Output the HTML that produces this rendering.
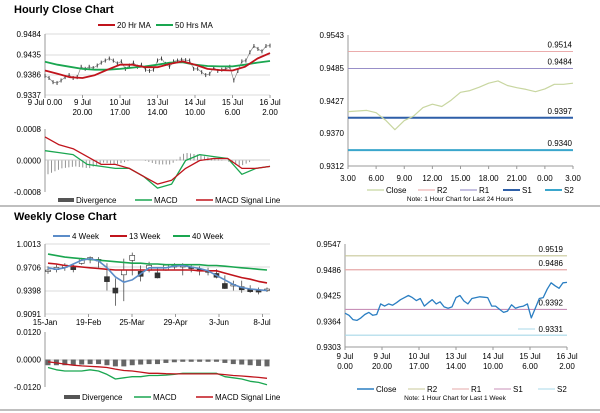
<!DOCTYPE html>
<html><head><meta charset="utf-8"><style>
html,body{margin:0;padding:0;background:#fff;}
svg{display:block;font-family:"Liberation Sans",Arial,sans-serif;}
</style></head><body>
<svg id="s" width="600" height="413" viewBox="0 0 600 413" xmlns="http://www.w3.org/2000/svg">
<text x="14" y="13" font-size="11" font-weight="bold">Hourly Close Chart</text>
<line x1="0" y1="206" x2="600" y2="206" stroke="#999" stroke-width="1.2"/>
<text x="14" y="220" font-size="11" font-weight="bold">Weekly Close Chart</text>
<line x1="0" y1="410" x2="600" y2="410" stroke="#999" stroke-width="1.2"/>
</svg>
<script>
// ---- data ----
const weekClose=[0.9383,0.9378,0.9368,0.9366,0.9372,0.9380,0.9385,0.9378,0.9380,0.9405,0.9400,0.9405,0.9402,0.9408,0.9415,0.9420,0.9425,0.9420,0.9413,0.9418,0.9400,0.9408,0.9415,0.9405,0.9410,0.9398,0.9395,0.9398,0.9420,0.9425,0.9412,0.9405,0.9418,0.9420,0.9422,0.9421,0.9420,0.9400,0.9400,0.9392,0.9385,0.9388,0.9403,0.9395,0.9398,0.9400,0.9405,0.9372,0.9395,0.9418,0.9420,0.9440,0.9455,0.9448,0.9442,0.9455,0.9456];
const ma20=[0.9396,0.9388,0.9380,0.9378,0.9385,0.9398,0.9410,0.9410,0.9404,0.9404,0.9412,0.9418,0.9410,0.9400,0.9397,0.9396,0.9405,0.9425,0.9438];
const ma50=[0.9417,0.9410,0.9405,0.9400,0.9398,0.9398,0.9400,0.9403,0.9406,0.9410,0.9415,0.9416,0.9410,0.9407,0.9406,0.9406,0.9410,0.9415,0.9419];
const hMacd=[0.00025,0.0002,0.00015,-0.0001,-0.00015,-0.0002,-0.0002,-0.0004,-0.0007,-0.0006,0.0000,0.00015,0.0001,0.00005,-0.00035,-0.0002,-0.00015];
const hSignal=[0.0006,0.0004,0.0003,0.0001,-0.0001,-0.0001,-0.0002,-0.0004,-0.0006,-0.0005,-0.0002,0.0000,0.00005,0.00005,-0.0002,-0.0002,-0.00015];
const hourTicks=["9 Jul 0.00","9 Jul|20.00","10 Jul|17.00","13 Jul|14.00","14 Jul|10.00","15 Jul|6.00","16 Jul|2.00"];
const dayClose=[0.9408,0.9409,0.9410,0.9406,0.9393,0.9376,0.9392,0.9400,0.9415,0.9421,0.9417,0.9428,0.9442,0.9445,0.9451,0.9458,0.9462,0.9454,0.9450,0.9447,0.9443,0.9448,0.9456,0.9456,0.9458];
const dayTicks=["3.00","6.00","9.00","12.00","15.00","18.00","21.00","0.00","3.00"];
const dayLevels=[0.9514,0.9484,0.9397,0.9340];
const weekLevels=[0.9519,0.9486,0.9392,0.9331];
const wkClose=[0.9660,0.9690,0.9720,0.9690,0.9790,0.9820,0.9800,0.9550,0.9400,0.9640,0.9830,0.9620,0.9700,0.9600,0.9700,0.9720,0.9720,0.9700,0.9670,0.9650,0.9600,0.9460,0.9470,0.9430,0.9400,0.9390,0.9410];
const wkHigh=[0.9720,0.9740,0.9760,0.9740,0.9830,0.9850,0.9840,0.9760,0.9560,0.9820,0.9900,0.9730,0.9780,0.9700,0.9740,0.9760,0.9760,0.9740,0.9720,0.9700,0.9680,0.9600,0.9530,0.9530,0.9470,0.9440,0.9440];
const wkLow=[0.9620,0.9640,0.9660,0.9640,0.9740,0.9760,0.9700,0.9400,0.9200,0.9260,0.9600,0.9520,0.9640,0.9560,0.9660,0.9680,0.9600,0.9640,0.9600,0.9600,0.9560,0.9420,0.9400,0.9370,0.9370,0.9350,0.9380];
const wk4=[0.970,0.968,0.970,0.975,0.980,0.982,0.979,0.970,0.958,0.951,0.954,0.962,0.970,0.970,0.970,0.972,0.973,0.971,0.969,0.966,0.960,0.954,0.948,0.944,0.942,0.941,0.940];
const wk13=[0.976,0.975,0.973,0.972,0.971,0.970,0.969,0.968,0.967,0.967,0.967,0.967,0.967,0.967,0.967,0.967,0.967,0.967,0.966,0.966,0.966,0.963,0.960,0.957,0.955,0.952,0.950];
const wk40=[0.988,0.986,0.984,0.983,0.982,0.981,0.980,0.979,0.978,0.977,0.976,0.976,0.975,0.975,0.974,0.974,0.974,0.974,0.974,0.973,0.973,0.972,0.971,0.970,0.969,0.968,0.967];
const wMacd=[-0.0035,-0.0045,-0.005,-0.005,-0.005,-0.0045,-0.005,-0.0065,-0.0085,-0.008,-0.0075,-0.0075,-0.007,-0.007,-0.0068,-0.0065,-0.006,-0.006,-0.006,-0.006,-0.006,-0.0075,-0.008,-0.0085,-0.0095,-0.010,-0.011];
const wSignal=[-0.001,-0.0015,-0.002,-0.0025,-0.0028,-0.003,-0.0032,-0.0035,-0.0042,-0.0048,-0.005,-0.0055,-0.006,-0.006,-0.0062,-0.0063,-0.0063,-0.0063,-0.0063,-0.0063,-0.0063,-0.0066,-0.007,-0.0072,-0.0075,-0.0078,-0.0082];
const wDiv=[-0.0025,-0.0025,-0.0025,-0.0025,-0.0022,-0.002,-0.002,-0.0025,-0.003,-0.003,-0.0025,-0.0022,-0.002,-0.002,-0.0015,-0.0012,-0.001,-0.001,-0.001,-0.001,-0.001,-0.0015,-0.002,-0.0022,-0.0025,-0.0028,-0.003];
const wkTicks=["15-Jan","19-Feb","25-Mar","29-Apr","3-Jun","8-Jul"];

// ---- helpers ----
const S=document.getElementById('s');const NS="http://www.w3.org/2000/svg";
function mk(tag,a,parent){const e=document.createElementNS(NS,tag);for(const k in a)e.setAttribute(k,a[k]);(parent||S).appendChild(e);return e;}
function txt(x,y,t,size,anchor,fill){const e=mk('text',{x:x,y:y,'font-size':size||8,'text-anchor':anchor||'start',fill:fill||'#000'});e.textContent=t;return e;}
function lin(lo,hi,p0,p1){return v=>p0+(v-lo)/(hi-lo)*(p1-p0);}
function poly(arr,X,Y,color,w){const pts=arr.map((v,i)=>X(i).toFixed(1)+','+Y(v).toFixed(1)).join(' ');return mk('polyline',{points:pts,fill:'none',stroke:color,'stroke-width':w||1.5,'stroke-linejoin':'round'});}
function grid(ys,x0,x1,c){ys.forEach(y=>mk('line',{x1:x0,y1:y,x2:x1,y2:y,stroke:c||'#cfcfcf','stroke-width':0.8}));}
function yLabels(vals,Y,x){vals.forEach(v=>{txt(x,Y(v)+3,v.toFixed(4),8,'end');});}
function legLine(x,y,c,w,label){mk('line',{x1:x,y1:y,x2:x+17,y2:y,stroke:c,'stroke-width':w});txt(x+19,y+3,label,8);}

// ===== Hourly close (top-left) =====
{const x0=45,x1=270;const Y=lin(0.9337,0.9484,95,34);
grid([34,55,75,95],x0,x1);
mk('line',{x1:x0,y1:34,x2:x0,y2:95,stroke:'#999'});
yLabels([0.9484,0.9435,0.9386,0.9337],Y,41);
let X=i=>x0+i*(x1-x0)/(weekClose.length-1);
const cl=poly(weekClose,X,Y,'#888',0.7);

weekClose.forEach((v,i)=>{const t=mk('line',{x1:X(i),y1:Y(v)-2,x2:X(i),y2:Y(v)+2,stroke:'#333','stroke-width':0.9});

});
const XM=i=>x0+i*(x1-x0)/(ma20.length-1);
const g=poly(ma50,XM,Y,'#1aa650',1.8);
const r=poly(ma20,XM,Y,'#c0141c',1.8);
legLine(98,25,'#c0141c',2,'20 Hr MA');legLine(156,25,'#1aa650',2,'50 Hrs MA');
hourTicks.forEach((t,i)=>{const x=x0+i*(x1-x0)/6;const p=t.split('|');
mk('line',{x1:x,y1:95,x2:x,y2:98,stroke:'#999'});
txt(x,105,p[0],8,'middle');if(p[1])txt(x,115,p[1],8,'middle');});
const YM=lin(-0.0008,0.0008,192,129);
mk('line',{x1:x0,y1:160,x2:x1,y2:160,stroke:'#bbb','stroke-width':0.8});
mk('line',{x1:x0,y1:129,x2:x0,y2:192,stroke:'#999'});
yLabels([0.0008,0.0000,-0.0008],YM,41);
const XD=i=>x0+i*(x1-x0)/(hMacd.length-1);
const nb=64;for(let k=0;k<nb;k++){const f=k/(nb-1)*(hMacd.length-1);const a=Math.floor(f),b=Math.min(a+1,hMacd.length-1),t=f-a;
const d=(hMacd[a]*(1-t)+hMacd[b]*t)-(hSignal[a]*(1-t)+hSignal[b]*t);const x=x0+3+k*(x1-x0-6)/(nb-1);
const e=mk('line',{x1:x,y1:YM(0),x2:x,y2:YM(d),stroke:'#888','stroke-width':0.9});
}
const mg=poly(hMacd,XD,YM,'#1aa650',1.3);
const ms=poly(hSignal,XD,YM,'#c0141c',1.3);
mk('rect',{x:58,y:198,width:16,height:4,fill:'#555'});txt(76,203,'Divergence',8);
legLine(135,200,'#1aa650',1.5,'MACD');legLine(196,200,'#c0141c',1.5,'MACD Signal Line');
}

// ===== 24h chart (top-right) =====
{const x0=348,x1=573;const Y=lin(0.9312,0.9543,166,35);
mk('line',{x1:x0,y1:35,x2:x0,y2:166,stroke:'#999'});mk('line',{x1:x0,y1:166,x2:x1,y2:166,stroke:'#999'});
yLabels([0.9543,0.9485,0.9427,0.9370,0.9312],Y,344);
const X=i=>x0+i*(x1-x0)/(dayClose.length-1);
dayTicks.forEach((t,i)=>{const x=x0+i*(x1-x0)/8;mk('line',{x1:x,y1:166,x2:x,y2:169,stroke:'#999'});txt(x,181,t,8,'middle');});
const cols=['#e8a0a0','#8a7fc0','#2e5fa8','#3aa6cc'],ws=[0.9,0.9,2,2];
dayLevels.forEach((v,i)=>{const l=mk('line',{x1:x0,y1:Y(v),x2:x1,y2:Y(v),stroke:cols[i],'stroke-width':ws[i]});

txt(572,Y(v)-4,v.toFixed(4),8,'end');});
const c=poly(dayClose,X,Y,'#c8d6a0',1.2);
legLine(367,190,'#c8d6a0',1.2,'Close');legLine(418,190,cols[0],1,'R2');legLine(460,190,cols[1],1,'R1');legLine(503,190,cols[2],2,'S1');legLine(545,190,cols[3],2,'S2');
txt(460,201,'Note: 1 Hour Chart for Last 24 Hours',6.5,'middle');
}

// ===== Weekly (bottom-left) =====
{const x0=45,x1=270;const Y=lin(0.9091,1.0013,314,244);
grid([244,267,291,314],x0,x1);
mk('line',{x1:x0,y1:244,x2:x0,y2:314,stroke:'#999'});
yLabels([1.0013,0.9706,0.9398,0.9091],Y,41);
const X=i=>x0+3+i*(x1-x0-6)/(wkClose.length-1);
wkClose.forEach((v,i)=>{const o=i?wkClose[i-1]:v;const x=X(i);
const w=mk('line',{x1:x,y1:Y(wkHigh[i]),x2:x,y2:Y(wkLow[i]),stroke:'#333','stroke-width':0.7});

const up=v>=o;const h=Math.min(5,Math.max(1.5,Math.abs(Y(o)-Y(v))));
const r=mk('rect',{x:x-2.5,y:Y(v)-h/2,width:5,height:h,fill:up?'#fff':'#333',stroke:'#333','stroke-width':0.6});
});
const g=poly(wk40,X,Y,'#1aa650',1.6);
const r=poly(wk13,X,Y,'#c0141c',1.6);
const b=poly(wk4,X,Y,'#5b8cc8',1.6);
legLine(53,236,'#5b8cc8',2,'4 Week');legLine(110,236,'#c0141c',2,'13 Week');legLine(173,236,'#1aa650',2,'40 Week');
wkTicks.forEach((t,i)=>{const x=x0+i*43.5;mk('line',{x1:x,y1:314,x2:x,y2:317,stroke:'#999'});txt(Math.min(x,262),325,t,8,'middle');});
const YM=lin(-0.012,0.012,387,332);
mk('line',{x1:x0,y1:360,x2:x1,y2:360,stroke:'#bbb','stroke-width':0.8});
mk('line',{x1:x0,y1:332,x2:x0,y2:387,stroke:'#999'});
yLabels([0.0120,0.0000,-0.0120],YM,41);
wDiv.forEach((d,i)=>{const e=mk('rect',{x:X(i)-2.5,y:YM(0),width:5,height:YM(d)-YM(0),fill:'#666'});
});
const mg=poly(wMacd,X,YM,'#1aa650',1.3);
const ms=poly(wSignal,X,YM,'#c0141c',1.3);
mk('rect',{x:64,y:395,width:16,height:4,fill:'#555'});txt(82,400,'Divergence',8);
legLine(134,397,'#1aa650',1.5,'MACD');legLine(196,397,'#c0141c',1.5,'MACD Signal Line');
}

// ===== 1 week chart (bottom-right) =====
{const x0=345,x1=567;const Y=lin(0.9303,0.9547,347,244);
mk('line',{x1:x0,y1:244,x2:x0,y2:347,stroke:'#999'});mk('line',{x1:x0,y1:347,x2:x1,y2:347,stroke:'#999'});
yLabels([0.9547,0.9486,0.9425,0.9364,0.9303],Y,341);
const cols=['#c8c89a','#e6a8a8','#c890b8','#a8d8e8'];
weekLevels.forEach((v,i)=>{const l=mk('line',{x1:x0,y1:Y(v),x2:x1,y2:Y(v),stroke:cols[i],'stroke-width':1.2});

if(i<3)txt(563,Y(v)-4,v.toFixed(4),8,'end');});
mk('line',{x1:518,y1:329,x2:535,y2:329,stroke:cols[3],'stroke-width':1});txt(563,332,weekLevels[3].toFixed(4),8,'end');
const X=i=>x0+i*(x1-x0)/(weekClose.length-1);
const c=poly(weekClose,X,Y,'#2a7ec2',1.3);
hourTicks.forEach((t,i)=>{const x=x0+i*(x1-x0)/6;const p=t.includes('|')?t.split('|'):['9 Jul','0.00'];
mk('line',{x1:x,y1:347,x2:x,y2:350,stroke:'#999'});txt(x,359,p[0],8,'middle');txt(x,369,p[1],8,'middle');});
legLine(357,389,'#2a7ec2',1.5,'Close');legLine(408,389,cols[0],1,'R2');legLine(452,389,cols[1],1,'R1');legLine(494,389,cols[2],1,'S1');legLine(538,389,cols[3],1,'S2');
txt(455,400,'Note: 1 Hour Chart for Last 1 Week',6.5,'middle');
}
</script>
</body></html>
